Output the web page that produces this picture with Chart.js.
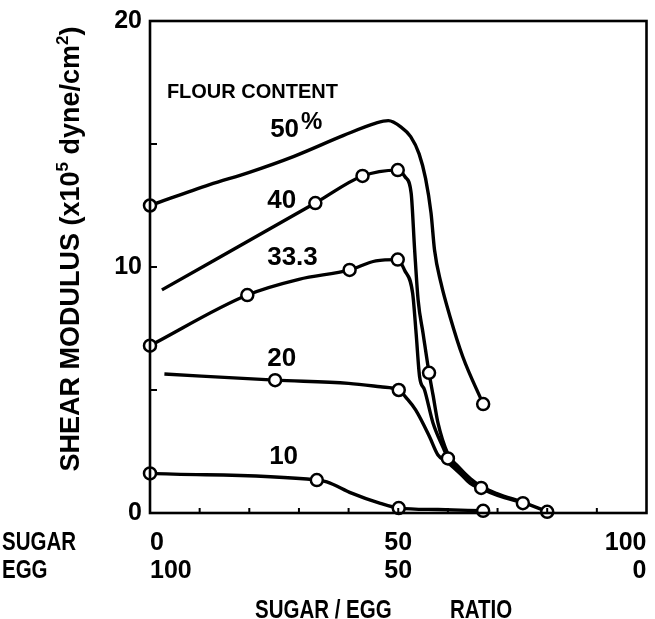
<!DOCTYPE html>
<html>
<head>
<meta charset="utf-8">
<script src="https://cdn.jsdelivr.net/npm/chart.js@4.4.1/dist/chart.umd.min.js"></script>
<style>
  html, body { margin: 0; padding: 0; background: #fff; }
  #wrap { width: 655px; height: 619px; }
</style>
</head>
<body>
<div id="wrap"><canvas id="grafica" width="655" height="619"></canvas></div>
<script>
// flour content of each curve (labels on the figure)
const flourContents = ['50%', '40', '33.3', '20', '10'];

// hand drawn curves (sugar % , shear modulus x10^5)
const curve50x = [0, 12, 20, 29, 39, 45.5, 48, 50.5, 52.5, 54.2, 55.5, 56.6, 57.3, 58.6, 60.4, 63, 67.1];
const curve50y = [12.5, 13.35, 13.85, 14.5, 15.35, 15.85, 15.95, 15.7, 15.3, 14.6, 13.6, 12.2, 10.7, 9.35, 8.0, 6.35, 4.43];

const curve40x = [2.4, 33.3, 42.8, 49.9, 51.4, 52.6, 53.3, 54.0, 55.0, 56.2, 57.0, 58.0, 60.0, 62.0, 64.5, 66.7, 70, 75, 80];
const curve40y = [9.07, 12.6, 13.7, 13.94, 13.66, 13.0, 10.7, 8.66, 7.3, 5.7, 4.8, 3.66, 2.4, 1.9, 1.4, 1.08, 0.78, 0.44, 0.06];

const curve33x = [0, 19.6, 30, 40.2, 45.5, 49.9, 51.25, 52.9, 53.6, 54.3, 55.3, 57.0, 59.0, 60.0, 62.0, 64.5, 66.7, 70, 75];
const curve33y = [6.8, 8.86, 9.5, 9.88, 10.25, 10.3, 9.88, 8.93, 7.3, 5.54, 5.0, 3.66, 2.68, 2.24, 1.75, 1.25, 1.0, 0.72, 0.42];

const curve20x = [2.9, 25.2, 40, 46.4, 50.1, 51.7, 53.5, 56.3, 58.0, 60.0, 62.5, 64.5, 66.7];
const curve20y = [5.65, 5.4, 5.27, 5.13, 5.0, 4.66, 4.19, 3.1, 2.36, 2.05, 1.6, 1.2, 0.98];

const curve10x = [0, 33.6, 35.6, 40.6, 46.4, 50.1, 58, 67.1];
const curve10y = [1.61, 1.34, 1.27, 0.81, 0.39, 0.2, 0.14, 0.09];

// measured points (open circles)
const points50x = [0, 67.1];
const points50y = [12.5, 4.43];
const points40x = [33.3, 42.8, 49.9, 56.2, 80];
const points40y = [12.6, 13.7, 13.94, 5.7, 0.05];
const points33x = [0, 19.6, 40.2, 49.9, 60, 75.1];
const points33y = [6.8, 8.86, 9.88, 10.3, 2.22, 0.4];
const points20x = [25.2, 50.1, 66.7];
const points20y = [5.4, 5.0, 1.02];
const points10x = [0, 33.6, 50.1, 67.1];
const points10y = [1.61, 1.34, 0.2, 0.09];

// axis tick labels
const sugarTicks = [0, 50, 100];
const eggTicks = [100, 50, 0];
const modulusTicks = [0, 10, 20];

const FONT = '"Liberation Sans", Arial, sans-serif';

// use the narrow face for the lettering under the x axis when it is installed
function hasFont(name) {
    const c = document.createElement('canvas').getContext('2d');
    c.font = '40px monospace';
    const w0 = c.measureText('SUGAR 100').width;
    c.font = '40px "' + name + '", monospace';
    return c.measureText('SUGAR 100').width !== w0;
}
const haveNarrow = hasFont('Liberation Sans Narrow');
const NARROW = haveNarrow ? '"Liberation Sans Narrow", ' + FONT : FONT;
const squeeze = haveNarrow ? 1 : 0.82;

// where the curve labels sit, in data units
const curveLabels = [
    { text: 'FLOUR CONTENT', x: 3.4, y: 16.87, size: 20 },
    { text: '50', x: 24.2, y: 15.28, size: 26, sup: '%' },
    { text: '40', x: 23.6, y: 12.4, size: 26 },
    { text: '33.3', x: 23.6, y: 10.08, size: 26 },
    { text: '20', x: 23.6, y: 5.98, size: 26 },
    { text: '10', x: 24.0, y: 2.0, size: 26 }
];

function toXY(xs, ys) {
    return xs.map((x, i) => ({ x: x, y: ys[i] }));
}

const curves = [[curve50x, curve50y], [curve40x, curve40y], [curve33x, curve33y], [curve20x, curve20y], [curve10x, curve10y]];
const points = [[points50x, points50y], [points40x, points40y], [points33x, points33y], [points20x, points20y], [points10x, points10y]];

const datasets = [];
curves.forEach((c, i) => {
    datasets.push({
        type: 'line',
        label: flourContents[i],
        data: toXY(c[0], c[1]),
        borderColor: '#000',
        borderWidth: 3.4,
        pointRadius: 0,
        cubicInterpolationMode: 'monotone',
        fill: false,
        order: 2
    });
});
points.forEach((p, i) => {
    datasets.push({
        type: 'scatter',
        label: flourContents[i] + ' measured',
        data: toXY(p[0], p[1]),
        pointRadius: 6,
        pointBorderWidth: 2.5,
        pointBackgroundColor: '#fff',
        pointBorderColor: '#000',
        showLine: false,
        clip: false,
        order: 1
    });
});

function squeezedText(ctx, text, x, y) {
    ctx.save();
    ctx.translate(x, y);
    ctx.scale(squeeze, 1);
    ctx.fillText(text, 0, 0);
    ctx.restore();
}

// frame, inward ticks and the hand lettering
const extras = {
    id: 'extras',
    afterDraw(chart) {
        const ctx = chart.ctx;
        const a = chart.chartArea;
        const xs = chart.scales.x;
        const ys = chart.scales.y;
        ctx.save();
        ctx.strokeStyle = '#000';
        ctx.lineWidth = 2.6;
        ctx.strokeRect(a.left, a.top, a.right - a.left, a.bottom - a.top);

        ctx.lineWidth = 2;
        ctx.beginPath();
        xs.ticks.forEach(t => {
            if (t.value <= xs.min || t.value >= xs.max) return;
            const px = xs.getPixelForValue(t.value);
            ctx.moveTo(px, a.bottom);
            ctx.lineTo(px, a.bottom - 5);
        });
        ys.ticks.forEach(t => {
            if (t.value <= ys.min || t.value >= ys.max) return;
            const py = ys.getPixelForValue(t.value);
            ctx.moveTo(a.left, py);
            ctx.lineTo(a.left + 7, py);
        });
        ctx.stroke();

        ctx.fillStyle = '#000';
        ctx.textBaseline = 'alphabetic';
        ctx.textAlign = 'left';
        curveLabels.forEach(l => {
            const px = xs.getPixelForValue(l.x);
            const py = ys.getPixelForValue(l.y);
            ctx.font = 'bold ' + l.size + 'px ' + FONT;
            ctx.fillText(l.text, px, py);
            if (l.sup) {
                const w = ctx.measureText(l.text).width;
                ctx.font = 'bold 24px ' + FONT;
                ctx.fillText(l.sup, px + w + 2, py - 8);
            }
        });

        // row names under the x axis and the x title
        ctx.font = 'bold 25px ' + NARROW;
        squeezedText(ctx, 'SUGAR', 2, 550);
        squeezedText(ctx, 'EGG', 2, 578);
        squeezedText(ctx, 'SUGAR / EGG', 255, 618);
        squeezedText(ctx, 'RATIO', 450, 618);

        // y title, with superscripts
        const parts = [
            ['SHEAR MODULUS (x10', false], ['5', true], [' dyne/cm', false], ['2', true], [')', false]
        ];
        ctx.translate(79, 249);
        ctx.rotate(-Math.PI / 2);
        let total = 0;
        parts.forEach(p => {
            ctx.font = 'bold ' + (p[1] ? '17px ' : '27px ') + FONT;
            total += ctx.measureText(p[0]).width;
        });
        let cx = -total / 2;
        parts.forEach(p => {
            ctx.font = 'bold ' + (p[1] ? '17px ' : '27px ') + FONT;
            ctx.fillText(p[0], cx, p[1] ? -11 : 0);
            cx += ctx.measureText(p[0]).width;
        });
        ctx.restore();
    }
};

const ctx = document.getElementById('grafica').getContext('2d');
const grafica = new Chart(ctx, {
    data: { datasets: datasets },
    options: {
        responsive: false,
        animation: false,
        devicePixelRatio: 1,
        layout: { padding: { top: 21, right: 8, bottom: 0, left: 0 } },
        plugins: {
            legend: { display: false },
            tooltip: { enabled: false }
        },
        scales: {
            x: {
                type: 'linear',
                min: 0,
                max: 100,
                grid: { display: false, drawTicks: false },
                border: { display: false },
                ticks: {
                    stepSize: 10,
                    autoSkip: false,
                    maxRotation: 0,
                    align: 'inner',
                    color: '#000',
                    padding: 16,
                    font: { family: NARROW, size: 25, weight: 'bold', lineHeight: 1.12 },
                    callback: function (v) {
                        const i = sugarTicks.indexOf(v);
                        return i >= 0 ? [String(sugarTicks[i]), String(eggTicks[i])] : '';
                    }
                },
                afterFit: function (scale) {
                    scale.height = 106;
                    scale.paddingLeft = 0;
                    scale.paddingRight = 0;
                }
            },
            y: {
                type: 'linear',
                min: 0,
                max: 20,
                grid: { display: false, drawTicks: false },
                border: { display: false },
                ticks: {
                    stepSize: 5,
                    autoSkip: false,
                    color: '#000',
                    padding: 8,
                    font: { family: FONT, size: 25, weight: 'bold' },
                    callback: function (v) {
                        return modulusTicks.includes(v) ? String(v) : '';
                    }
                },
                afterFit: function (scale) {
                    scale.width = 150;
                    scale.paddingTop = 0;
                    scale.paddingBottom = 0;
                }
            }
        }
    },
    plugins: [extras]
});
</script>
</body>
</html>
